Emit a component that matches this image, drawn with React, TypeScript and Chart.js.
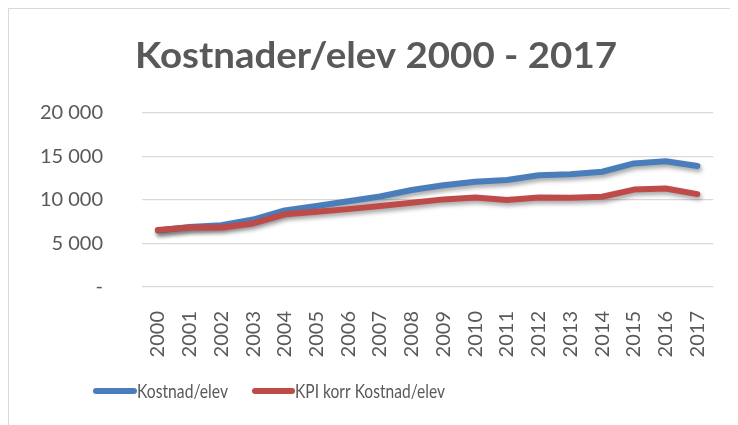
import React, { useEffect, useRef } from "react";
import { Chart, registerables } from "chart.js";

Chart.register(...registerables);

const categories = ["2000","2001","2002","2003","2004","2005","2006","2007","2008","2009","2010","2011","2012","2013","2014","2015","2016","2017"];
const kostnadElev = [6500, 6900, 7100, 7750, 8800, 9300, 9850, 10400, 11150, 11700, 12100, 12300, 12850, 12950, 13250, 14200, 14450, 13900];
const kpiKorr = [6550, 6850, 6850, 7300, 8350, 8650, 8950, 9300, 9680, 10070, 10300, 10000, 10300, 10270, 10370, 11200, 11330, 10680];
const seriesNames = ["Kostnad/elev", "KPI korr Kostnad/elev"];
const titleText = "Kostnader/elev 2000 - 2017";
const yTicks = [0, 5000, 10000, 15000, 20000];

const BLUE = "#4A7EBB";
const RED = "#BE4B48";
const TEXT = "#595959";
const FONT = "Lato";

function fitText(ctx: CanvasRenderingContext2D, text: string, x: number, y: number, targetW: number, align: "left" | "center") {
  const w = ctx.measureText(text).width;
  const s = targetW / w;
  ctx.save();
  ctx.translate(x, y);
  ctx.scale(s, 1);
  ctx.textAlign = align;
  ctx.fillText(text, 0, 0);
  ctx.restore();
}

const decorPlugin = {
  id: "decor",
  beforeDatasetDraw(chart: any) {
    const ctx = chart.ctx;
    ctx.save();
    ctx.shadowColor = "rgba(0,0,0,0.35)";
    ctx.shadowBlur = 4;
    ctx.shadowOffsetX = 1.5;
    ctx.shadowOffsetY = 3;
  },
  afterDatasetDraw(chart: any) {
    chart.ctx.restore();
  },
  afterDraw(chart: any) {
    const ctx: CanvasRenderingContext2D = chart.ctx;
    ctx.save();
    ctx.fillStyle = TEXT;
    ctx.textBaseline = "alphabetic";
    ctx.font = `bold 37px ${FONT}`;
    fitText(ctx, titleText, 367, 59, 482, "center");

    const items = [
      { color: BLUE, x0: 87, x1: 125, tx: 128, tw: 91, label: seriesNames[0] },
      { color: RED, x0: 246, x1: 283, tx: 286, tw: 150, label: seriesNames[1] },
    ];
    const ly = 382;
    ctx.font = `20px ${FONT}`;
    for (const it of items) {
      ctx.strokeStyle = it.color;
      ctx.lineWidth = 6;
      ctx.lineCap = "round";
      ctx.beginPath();
      ctx.moveTo(it.x0, ly);
      ctx.lineTo(it.x1, ly);
      ctx.stroke();
      ctx.fillStyle = TEXT;
      fitText(ctx, it.label, it.tx, ly + 7, it.tw, "left");
    }
    ctx.restore();
  },
};

export default function App() {
  const ref = useRef<HTMLCanvasElement>(null);
  useEffect(() => {
    document.body.style.overflow = "hidden";
    const canvas = ref.current!;
    const chart = new Chart(canvas, {
      type: "line",
      data: {
        labels: categories,
        datasets: [
          {
            label: seriesNames[0],
            data: kostnadElev,
            borderColor: BLUE,
            backgroundColor: BLUE,
            borderWidth: 6,
            pointRadius: 0,
            borderCapStyle: "round",
            borderJoinStyle: "round",
            tension: 0,
            order: 1,
          },
          {
            label: seriesNames[1],
            data: kpiKorr,
            borderColor: RED,
            backgroundColor: RED,
            borderWidth: 6,
            pointRadius: 0,
            borderCapStyle: "round",
            borderJoinStyle: "round",
            tension: 0,
            order: 0,
          },
        ],
      },
      options: {
        animation: false,
        responsive: false,
        layout: { padding: { top: 104, bottom: 58, left: 0, right: 21 } },
        plugins: {
          legend: { display: false },
          title: { display: false },
          tooltip: { enabled: false },
        },
        scales: {
          x: {
            type: "category",
            offset: true,
            grid: { display: false },
            border: { display: false },
            ticks: {
              autoSkip: false,
              maxRotation: 90,
              minRotation: 90,
              padding: 16,
              color: TEXT,
              font: { family: FONT, size: 20 },
            },
            afterFit: (s: any) => {
              s.height = 80;
            },
          },
          y: {
            min: 0,
            max: 20000,
            afterBuildTicks: (s: any) => {
              s.ticks = yTicks.map((v) => ({ value: v }));
            },
            grid: { color: "#d9d9d9", lineWidth: 1.3, drawTicks: false },
            border: { display: false },
            ticks: {
              padding: 39,
              color: TEXT,
              font: { family: FONT, size: 20 },
              callback: (v: any) => {
                const n = Number(v);
                if (n === 0) return "-";
                return n.toString().replace(/\B(?=(\d{3})+(?!\d))/g, " ");
              },
            },
            afterFit: (s: any) => {
              s.width = 133;
            },
          },
        },
      },
      plugins: [decorPlugin],
    });
    return () => chart.destroy();
  }, []);

  return (
    <div
      style={{
        width: 730,
        height: 417,
        borderLeft: "1px solid #d9d9d9",
        borderTop: "1px solid #d9d9d9",
        background: "#fff",
      }}
    >
      <canvas ref={ref} width={729} height={416} style={{ display: "block", width: 729, height: 416 }} />
    </div>
  );
}
